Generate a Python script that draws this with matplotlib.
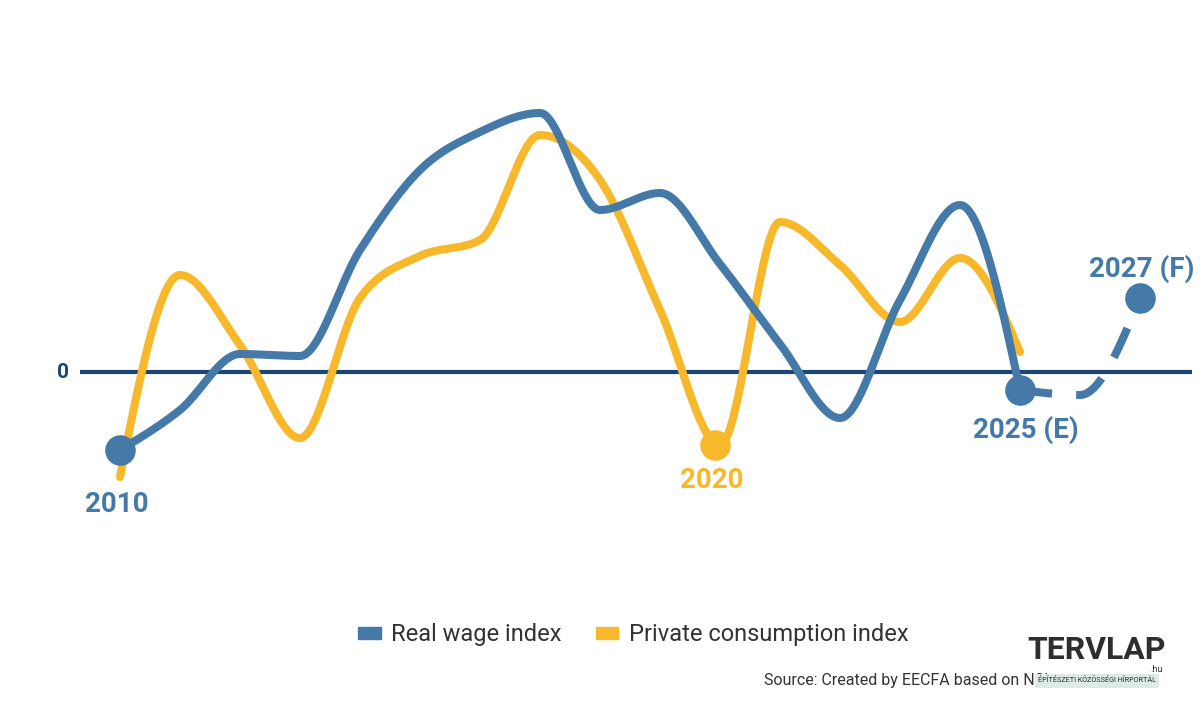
import numpy as np
import matplotlib
matplotlib.use("Agg")
import matplotlib.pyplot as plt
from matplotlib.patches import Patch

# ---- data ----
years = list(range(2010, 2028))
real_wage = [-3.9, -1.9, 0.9, 0.8, 6.1, 10.1, 12.0, 12.95, 8.1, 8.95, 5.4, 1.4, -2.3, 3.6, 8.35, -0.9, -1.15, 3.7]
cons_years = list(range(2010, 2026))
private_cons = [-5.25, 4.85, 1.35, -3.3, 3.7, 5.8, 6.6, 11.85, 9.6, 3.1, -3.65, 7.5, 5.35, 2.5, 5.7, 1.0]
forecast_start = 2025
wage_labels = {2010: "2010", 2025: "2025 (E)", 2027: "2027 (F)"}
cons_labels = {2020: "2020"}
legend_labels = ["Real wage index", "Private consumption index"]
source_text = "Source: Created by EECFA based on NSI"

BLUE = "#4479a8"
YELLOW = "#f7b92b"
NAVY = "#1b4572"
DARK = "#333333"

def monotone(xs, ys, n=40):
    x = np.asarray(xs, float)
    y = np.asarray(ys, float)
    h = np.diff(x)
    s = np.diff(y) / h
    m = np.zeros_like(y)
    for i in range(1, len(y) - 1):
        p = (s[i - 1] * h[i] + s[i] * h[i - 1]) / (h[i - 1] + h[i])
        m[i] = (np.sign(s[i - 1]) + np.sign(s[i])) * min(abs(s[i - 1]), abs(s[i]), 0.5 * abs(p))
    m[0] = (3 * s[0] - m[1]) / 2 if len(y) > 2 else s[0]
    m[-1] = (3 * s[-1] - m[-2]) / 2 if len(y) > 2 else s[-1]
    X, Y = [], []
    t = np.linspace(0, 1, n)
    for i in range(len(h)):
        h00 = 2 * t**3 - 3 * t**2 + 1
        h10 = t**3 - 2 * t**2 + t
        h01 = -2 * t**3 + 3 * t**2
        h11 = t**3 - t**2
        yy = h00 * y[i] + h10 * h[i] * m[i] + h01 * y[i + 1] + h11 * h[i] * m[i + 1]
        xx = x[i] + t * h[i]
        if i > 0:
            xx, yy = xx[1:], yy[1:]
        X.append(xx)
        Y.append(yy)
    return np.concatenate(X), np.concatenate(Y)

fig = plt.figure(figsize=(12.02, 7.07), dpi=100)
ax = fig.add_axes([0, 0, 1, 1])
ax.set_xlim(2008.0, 2028.033)
ax.set_ylim(-16.75, 18.6)
ax.axis("off")

lw = 5.8
# zero line
ax.plot([2009.333, 2027.867], [0, 0], color=NAVY, lw=3, zorder=1, solid_capstyle="butt")
ax.text(2009.15, 0, "0", ha="right", va="center", color=NAVY, fontsize=15,
        fontweight="bold", family="Roboto")

# consumption
cx, cy = monotone(cons_years, private_cons)
ax.plot(cx, cy, color=YELLOW, lw=lw, solid_capstyle="round", zorder=2)

# real wage: solid part + dashed forecast (separate series)
k = years.index(forecast_start)
wx, wy = monotone(years[:k + 1], real_wage[:k + 1])
ax.plot(wx, wy, color=BLUE, lw=lw, solid_capstyle="round", zorder=3)
fx, fy = monotone(years[k:], real_wage[k:])
ax.plot(fx, fy, color=BLUE, lw=lw, dashes=(4, 3), dash_capstyle="butt", zorder=3)

# markers & labels
for yr, lab in wage_labels.items():
    v = real_wage[years.index(yr)]
    ax.plot([yr], [v], "o", color=BLUE, ms=21, zorder=4)
offs = {2010: (-0.05, -2.7), 2025: (0.1, -2.0), 2027: (0.03, 1.45)}
for yr, lab in wage_labels.items():
    v = real_wage[years.index(yr)]
    dx, dy = offs[yr]
    ax.text(yr + dx, v + dy, lab, ha="center", va="center", color=BLUE, fontsize=20,
            fontweight="bold", family="Roboto", zorder=5)
for yr, lab in cons_labels.items():
    v = private_cons[cons_years.index(yr)]
    ax.plot([yr - 0.08], [v], "o", color=YELLOW, ms=21, zorder=4)
    ax.text(yr - 0.13, v - 1.75, lab, ha="center", va="center", color=YELLOW, fontsize=20,
            fontweight="bold", family="Roboto", zorder=5)

handles = [Patch(color=BLUE), Patch(color=YELLOW)]
ax.legend(handles, legend_labels, loc="center", bbox_to_anchor=(0.527, 0.102), ncol=2,
          frameon=False, handlelength=0.95, handleheight=0.38, handletextpad=0.45,
          columnspacing=1.45, borderpad=0, labelcolor=DARK,
          prop={"family": "Roboto", "size": 17})

ax.text(764 / 1202, 1 - 681 / 707, source_text, transform=ax.transAxes, ha="left", va="center",
        fontsize=11.5, color=DARK, family="Roboto")

# logo
ax.text(1097 / 1202, 1 - 650 / 707, "TERVLAP", transform=ax.transAxes, ha="center",
        va="center", fontsize=23, fontweight="bold", color="#2e2e2e", family="Roboto", zorder=6)
ax.text(1097 / 1202, 1 - 681 / 707, "ÉPÍTÉSZETI KÖZÖSSÉGI HÍRPORTÁL", transform=ax.transAxes,
        ha="center", va="center", fontsize=5.2, color="#2e2e2e", family="Roboto", zorder=6,
        bbox=dict(boxstyle="square,pad=0.45", fc="#dcebe8", ec="none"))
ax.text(1163 / 1202, 1 - 670 / 707, ".hu", transform=ax.transAxes, ha="right", va="center",
        fontsize=6.5, color="#2e2e2e", family="Roboto", zorder=6)

fig.savefig("out.png", dpi=100)
